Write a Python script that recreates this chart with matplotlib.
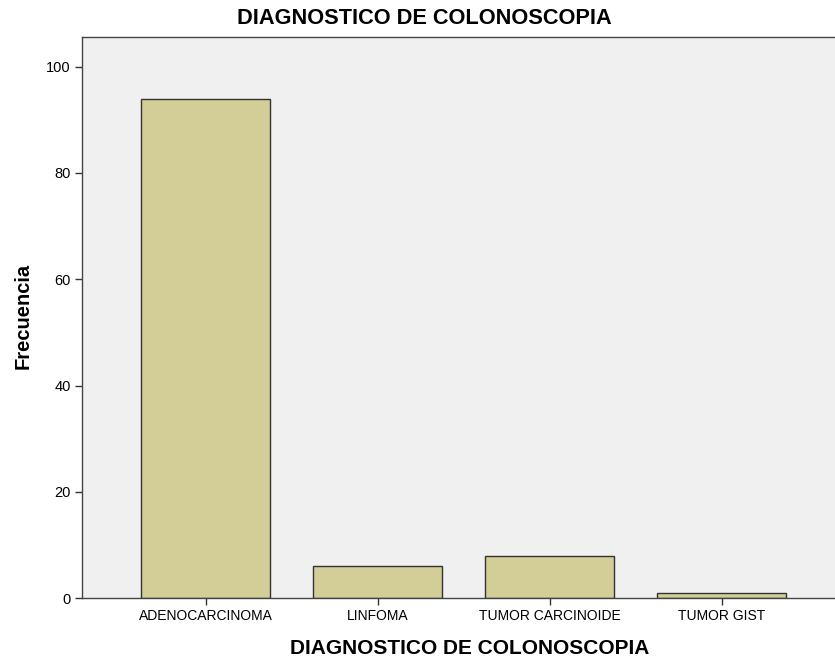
import matplotlib
matplotlib.use("Agg")
import matplotlib.pyplot as plt

categories = ["ADENOCARCINOMA", "LINFOMA", "TUMOR CARCINOIDE", "TUMOR GIST"]
values = [94, 6, 8, 1]
yticks = [0, 20, 40, 60, 80, 100]
title = "DIAGNOSTICO DE COLONOSCOPIA"

plt.rcParams['font.family'] = ['Liberation Sans', 'DejaVu Sans']

fig = plt.figure(figsize=(8.35, 6.59), dpi=100)
W, H = 835, 659
left, right, top, bottom = 82, 835, 37, 598
ax = fig.add_axes([left / W, 1 - bottom / H, (right - left) / W, (bottom - top) / H])
ax.set_facecolor("#F0F0F0")

x = list(range(len(categories)))
ax.bar(x, values, width=0.75, color="#D3CE98", edgecolor="#333333", linewidth=1.0, zorder=2)

ax.set_xlim(-0.72, 3.66)
ax.set_ylim(0, 105.6)
ax.set_xticks(x)
ax.set_xticklabels(categories, fontsize=10)
ax.set_yticks(yticks)
ax.set_yticklabels([str(t) for t in yticks], fontsize=10.5)
ax.tick_params(axis='both', direction='out', length=5, width=1, color="#333333", pad=3)

for s in ["left", "bottom", "top"]:
    ax.spines[s].set_color("#444444")
    ax.spines[s].set_linewidth(1.0)
ax.spines["right"].set_visible(False)

fig.text(424 / W, 1 - 19 / H, title, fontsize=15.7, fontweight="bold", ha="center", va="center")
fig.text(470 / W, 1 - 649 / H, title, fontsize=15, fontweight="bold", ha="center", va="center")
fig.text(23 / W, 1 - 316 / H, "Frecuencia", fontsize=14.5, fontweight="bold", ha="center", va="center", rotation=90)

fig.savefig("out.png", dpi=100)
